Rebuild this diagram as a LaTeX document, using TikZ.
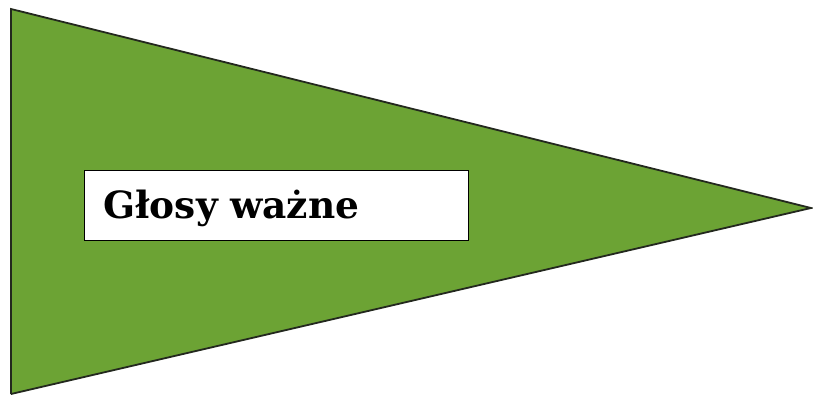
\documentclass[tikz,border=0pt]{standalone}
\usepackage{fontspec}
\setmainfont{DejaVu Serif}
\definecolor{flaggreen}{RGB}{108,163,52}
\definecolor{flagedge}{RGB}{35,40,30}

\begin{document}
\begin{tikzpicture}[x=1pt, y=-1pt, thick]
  \useasboundingbox (0,0) rectangle (813,396);
  % rogi trojkata (proporzec)
  \coordinate (TL) at (11, 9);
  \coordinate (BL) at (11, 394);
  \coordinate (T)  at (811, 208);

  \fill[flaggreen] (TL) -- (T) -- (BL) -- cycle;
  \draw[flagedge, line width=1.8pt] (BL) -- (TL) -- (T) -- (BL);

  % napis w bialej ramce
  \node[draw=black, fill=white, line width=1pt, anchor=west,
        inner xsep=19pt, text width=346pt, minimum height=70pt,
        text height=26pt, text depth=0pt, align=left,
        font=\fontsize{37.5}{40}\selectfont\bfseries]
    (label) at (84, 205) {Głosy ważne};
\end{tikzpicture}
\end{document}
